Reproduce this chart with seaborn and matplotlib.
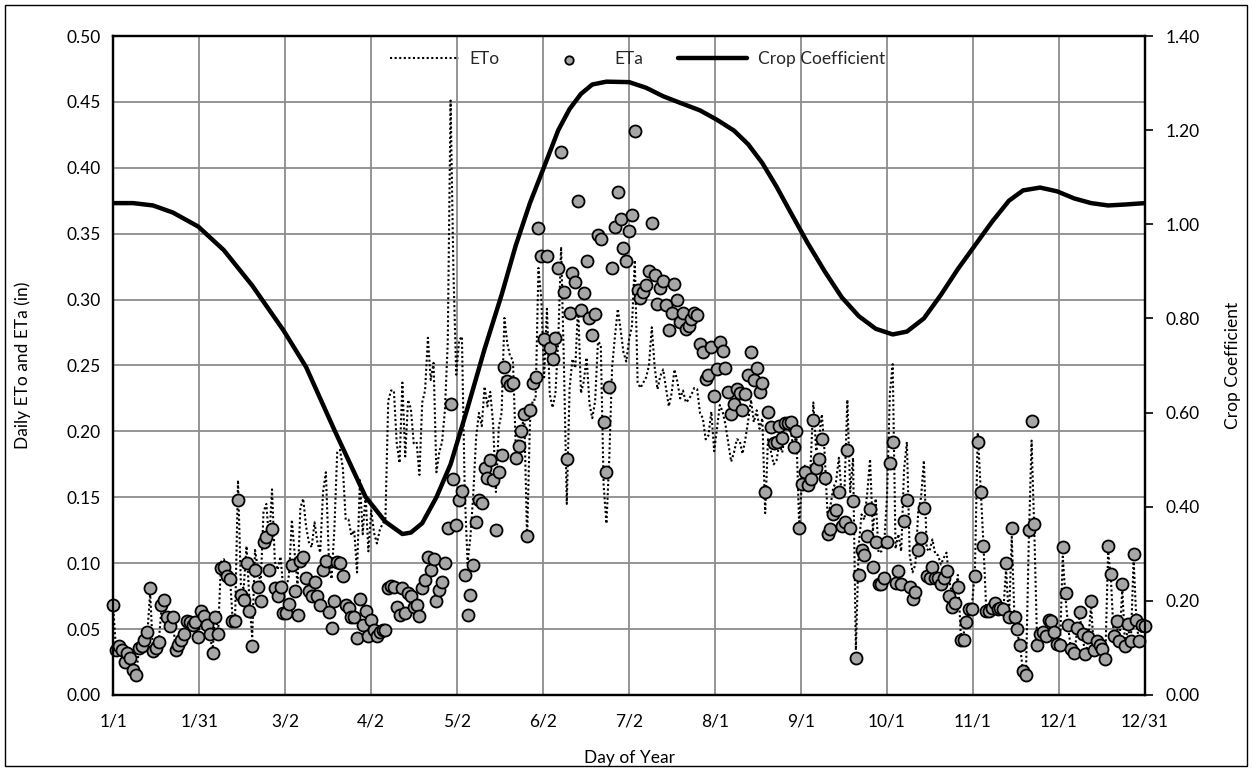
import numpy as np
import pandas as pd
import matplotlib
matplotlib.use("Agg")
import matplotlib.pyplot as plt
from matplotlib.patches import Rectangle
import seaborn as sns

# daily values (day 1 .. 365)
days = list(range(1, 366))

eta = [0.068, 0.034, 0.037, 0.034, 0.025, 0.032, 0.028, 0.019, 0.015, 0.036,
       0.037, 0.042, 0.048, 0.081, 0.033, 0.036, 0.040, 0.068, 0.072, 0.059,
       0.052, 0.059, 0.034, 0.038, 0.042, 0.046, 0.056, 0.055, 0.053, 0.055,
       0.044, 0.064, 0.060, 0.053, 0.046, 0.032, 0.059, 0.046, 0.096, 0.097,
       0.090, 0.088, 0.056, 0.056, 0.148, 0.076, 0.072, 0.100, 0.064, 0.037,
       0.095, 0.082, 0.071, 0.116, 0.120, 0.095, 0.126, 0.081, 0.075, 0.082,
       0.062, 0.062, 0.069, 0.099, 0.079, 0.061, 0.102, 0.105, 0.089, 0.079,
       0.075, 0.086, 0.075, 0.068, 0.095, 0.102, 0.063, 0.051, 0.071, 0.101,
       0.100, 0.090, 0.068, 0.066, 0.059, 0.059, 0.043, 0.073, 0.053, 0.064,
       0.045, 0.057, 0.049, 0.045, 0.048, 0.049, 0.049, 0.081, 0.083, 0.082,
       0.067, 0.061, 0.081, 0.062, 0.077, 0.075, 0.067, 0.068, 0.060, 0.081,
       0.087, 0.105, 0.095, 0.103, 0.071, 0.080, 0.086, 0.100, 0.127, 0.221,
       0.164, 0.129, 0.148, 0.155, 0.091, 0.061, 0.076, 0.099, 0.131, 0.148,
       0.146, 0.172, 0.165, 0.178, 0.163, 0.125, 0.169, 0.182, 0.249, 0.238,
       0.235, 0.237, 0.180, 0.189, 0.200, 0.213, 0.121, 0.216, 0.237, 0.241,
       0.354, 0.333, 0.270, 0.333, 0.263, 0.255, 0.271, 0.324, 0.412, 0.306,
       0.179, 0.290, 0.320, 0.313, 0.375, 0.292, 0.305, 0.329, 0.286, 0.273,
       0.289, 0.349, 0.346, 0.207, 0.169, 0.234, 0.324, 0.355, 0.382, 0.361,
       0.339, 0.329, 0.352, 0.364, 0.428, 0.307, 0.301, 0.306, 0.311, 0.322,
       0.358, 0.319, 0.297, 0.309, 0.314, 0.296, 0.277, 0.290, 0.312, 0.300,
       0.283, 0.290, 0.278, 0.280, 0.285, 0.290, 0.288, 0.266, 0.260, 0.240,
       0.243, 0.264, 0.227, 0.247, 0.268, 0.261, 0.248, 0.230, 0.213, 0.221,
       0.232, 0.229, 0.216, 0.228, 0.243, 0.260, 0.239, 0.248, 0.230, 0.237,
       0.154, 0.215, 0.203, 0.191, 0.192, 0.204, 0.195, 0.206, 0.206, 0.207,
       0.188, 0.200, 0.127, 0.160, 0.169, 0.159, 0.164, 0.209, 0.172, 0.179,
       0.194, 0.165, 0.122, 0.126, 0.137, 0.140, 0.154, 0.128, 0.131, 0.186,
       0.127, 0.147, 0.028, 0.091, 0.110, 0.106, 0.121, 0.141, 0.097, 0.116,
       0.084, 0.084, 0.089, 0.116, 0.176, 0.192, 0.085, 0.094, 0.084, 0.132,
       0.148, 0.082, 0.073, 0.078, 0.110, 0.119, 0.142, 0.090, 0.089, 0.097,
       0.089, 0.089, 0.084, 0.089, 0.094, 0.075, 0.067, 0.070, 0.082, 0.042,
       0.042, 0.055, 0.065, 0.065, 0.090, 0.192, 0.154, 0.113, 0.064, 0.064,
       0.066, 0.070, 0.065, 0.066, 0.065, 0.100, 0.059, 0.127, 0.059, 0.050,
       0.038, 0.018, 0.015, 0.125, 0.208, 0.130, 0.038, 0.046, 0.048, 0.045,
       0.057, 0.056, 0.048, 0.039, 0.038, 0.112, 0.077, 0.053, 0.035, 0.032,
       0.051, 0.063, 0.046, 0.031, 0.044, 0.071, 0.034, 0.041, 0.038, 0.035,
       0.027, 0.113, 0.092, 0.045, 0.056, 0.041, 0.084, 0.037, 0.054, 0.041,
       0.107, 0.057, 0.041, 0.053, 0.052]

eto = [0.065, 0.033, 0.035, 0.033, 0.024, 0.031, 0.027, 0.018, 0.014, 0.034,
       0.035, 0.040, 0.046, 0.078, 0.032, 0.035, 0.039, 0.066, 0.070, 0.057,
       0.051, 0.058, 0.033, 0.037, 0.041, 0.045, 0.056, 0.055, 0.053, 0.055,
       0.044, 0.065, 0.061, 0.054, 0.047, 0.033, 0.061, 0.048, 0.101, 0.103,
       0.096, 0.095, 0.061, 0.061, 0.163, 0.084, 0.081, 0.113, 0.073, 0.043,
       0.110, 0.096, 0.084, 0.139, 0.145, 0.116, 0.156, 0.101, 0.095, 0.105,
       0.080, 0.081, 0.091, 0.133, 0.107, 0.084, 0.142, 0.149, 0.128, 0.116,
       0.112, 0.131, 0.116, 0.108, 0.154, 0.169, 0.107, 0.088, 0.126, 0.184,
       0.186, 0.172, 0.133, 0.133, 0.121, 0.125, 0.093, 0.163, 0.122, 0.152,
       0.109, 0.140, 0.123, 0.115, 0.125, 0.130, 0.133, 0.223, 0.231, 0.231,
       0.191, 0.176, 0.237, 0.181, 0.224, 0.217, 0.191, 0.192, 0.167, 0.222,
       0.231, 0.271, 0.239, 0.252, 0.169, 0.184, 0.192, 0.216, 0.267, 0.451,
       0.322, 0.243, 0.269, 0.272, 0.154, 0.100, 0.120, 0.152, 0.195, 0.214,
       0.204, 0.234, 0.219, 0.230, 0.206, 0.154, 0.203, 0.214, 0.286, 0.267,
       0.257, 0.254, 0.188, 0.194, 0.202, 0.211, 0.118, 0.207, 0.224, 0.224,
       0.324, 0.301, 0.241, 0.293, 0.228, 0.218, 0.229, 0.270, 0.340, 0.250,
       0.145, 0.233, 0.255, 0.248, 0.296, 0.229, 0.238, 0.256, 0.221, 0.210,
       0.223, 0.268, 0.266, 0.159, 0.130, 0.180, 0.249, 0.272, 0.293, 0.277,
       0.260, 0.253, 0.270, 0.280, 0.330, 0.237, 0.233, 0.237, 0.241, 0.250,
       0.279, 0.249, 0.232, 0.242, 0.247, 0.233, 0.219, 0.229, 0.247, 0.238,
       0.225, 0.231, 0.222, 0.224, 0.228, 0.233, 0.232, 0.214, 0.210, 0.194,
       0.197, 0.215, 0.185, 0.202, 0.220, 0.215, 0.205, 0.191, 0.177, 0.184,
       0.194, 0.193, 0.183, 0.194, 0.208, 0.224, 0.207, 0.216, 0.202, 0.210,
       0.138, 0.194, 0.185, 0.175, 0.178, 0.191, 0.184, 0.197, 0.199, 0.202,
       0.185, 0.199, 0.128, 0.163, 0.174, 0.166, 0.173, 0.222, 0.185, 0.195,
       0.213, 0.183, 0.137, 0.143, 0.157, 0.162, 0.180, 0.151, 0.156, 0.224,
       0.154, 0.180, 0.034, 0.113, 0.137, 0.133, 0.153, 0.179, 0.124, 0.149,
       0.108, 0.109, 0.115, 0.151, 0.229, 0.251, 0.111, 0.122, 0.109, 0.171,
       0.192, 0.106, 0.093, 0.099, 0.139, 0.150, 0.178, 0.111, 0.109, 0.118,
       0.107, 0.106, 0.099, 0.104, 0.108, 0.086, 0.076, 0.078, 0.091, 0.046,
       0.046, 0.059, 0.069, 0.069, 0.094, 0.199, 0.158, 0.115, 0.065, 0.064,
       0.066, 0.069, 0.064, 0.064, 0.063, 0.096, 0.056, 0.120, 0.056, 0.047,
       0.036, 0.017, 0.014, 0.116, 0.193, 0.121, 0.035, 0.043, 0.045, 0.042,
       0.053, 0.052, 0.045, 0.036, 0.036, 0.105, 0.073, 0.050, 0.033, 0.030,
       0.048, 0.060, 0.044, 0.030, 0.042, 0.068, 0.033, 0.039, 0.036, 0.034,
       0.026, 0.109, 0.088, 0.043, 0.054, 0.039, 0.081, 0.036, 0.052, 0.039,
       0.103, 0.055, 0.039, 0.051, 0.050]

# crop coefficient curve, read at points along the line
kc_day = [1, 8, 15, 22, 31, 40, 50, 61, 69, 79, 90, 97, 103, 106, 110, 115,
          120, 126, 132, 138, 143, 148, 153, 158, 162, 166, 170, 175, 183,
          189, 195, 201, 208, 214, 220, 225, 230, 235, 240, 246, 252, 258,
          264, 270, 276, 281, 287, 293, 299, 305, 311, 317, 322, 328, 334,
          340, 346, 352, 358, 365]
kc = [1.045, 1.045, 1.040, 1.025, 0.995, 0.945, 0.870, 0.775, 0.697, 0.563,
      0.421, 0.368, 0.342, 0.345, 0.365, 0.420, 0.490, 0.610, 0.735, 0.850,
      0.955, 1.045, 1.122, 1.200, 1.245, 1.277, 1.297, 1.303, 1.302, 1.290,
      1.272, 1.258, 1.242, 1.222, 1.199, 1.170, 1.130, 1.080, 1.025, 0.960,
      0.900, 0.845, 0.805, 0.778, 0.766, 0.772, 0.800, 0.850, 0.905, 0.955,
      1.005, 1.050, 1.072, 1.078, 1.070, 1.055, 1.045, 1.040, 1.042, 1.045]

tick_labels = ["1/1", "1/31", "3/2", "4/2", "5/2", "6/2", "7/2", "8/1",
               "9/1", "10/1", "11/1", "12/1", "12/31"]

sns.set_theme(style="white")
plt.rcParams['font.family'] = ['Lato', 'DejaVu Sans']
fs = 12.5

df = pd.DataFrame({"day": days, "ETo": eto, "ETa": eta})
kc_df = pd.DataFrame({"day": kc_day, "Kc": kc})

fig = plt.figure(figsize=(12.52, 7.71), dpi=100)
ax = fig.add_axes([0.0905, 0.0986, 0.8240, 0.8547])

sns.lineplot(data=df, x="day", y="ETo", ax=ax, color="black", lw=1.5,
             linestyle=(0, (1, 1.2)), label="ETo", legend=False, zorder=2)
sns.scatterplot(data=df, x="day", y="ETa", ax=ax, s=75, color="#a6a6a6",
                edgecolor="black", linewidth=1.3, label="ETa", legend=False,
                zorder=3, clip_on=False)

ax.set_xlim(1, 365)
ax.set_ylim(0, 0.5)
ax.set_xticks(np.linspace(1, 365, 13))
ax.set_xticklabels(tick_labels)
yt = np.round(np.arange(0, 0.501, 0.05), 2)
ax.set_yticks(yt)
ax.set_yticklabels(["{:.2f}".format(v) for v in yt])
ax.grid(True, color="#8c8c8c", lw=1.3)
ax.set_axisbelow(True)
ax.tick_params(axis="both", length=0, labelsize=fs, colors="black")
ax.tick_params(axis="x", pad=13)
ax.tick_params(axis="y", pad=9)
ax.set_xlabel("Day of Year", fontsize=fs, color="black")
ax.set_ylabel("Daily ETo and ETa (in)", fontsize=fs, color="black")
ax.xaxis.set_label_coords(0.5, -0.083)
ax.yaxis.set_label_coords(-0.080, 0.5)

ax2 = ax.twinx()
sns.lineplot(data=kc_df, x="day", y="Kc", ax=ax2, color="black", lw=3.2,
             label="Crop Coefficient", legend=False)
ax2.set_ylim(0, 1.4)
kt = np.round(np.arange(0, 1.401, 0.2), 2)
ax2.set_yticks(kt)
ax2.set_yticklabels(["{:.2f}".format(v) for v in kt])
ax2.tick_params(axis="y", length=6, width=1.2, color="black", labelsize=fs,
                pad=9, colors="black")
ax2.set_ylabel("Crop Coefficient", fontsize=fs, color="black")
ax2.yaxis.set_label_coords(1.078, 0.5)
ax2.grid(False)

for a in (ax, ax2):
    for sp in a.spines.values():
        sp.set_color("black")
        sp.set_linewidth(1.6)

h1, l1 = ax.get_legend_handles_labels()
h2, l2 = ax2.get_legend_handles_labels()
ax2.legend(h1 + h2, l1 + l2, loc="center", bbox_to_anchor=(0.508, 0.965),
           ncol=3, frameon=False, fontsize=fs, handlelength=4,
           columnspacing=2, handletextpad=0.6, borderaxespad=0,
           markerscale=0.7)

fig.patches.append(Rectangle((0.004, 0.006), 0.992, 0.988,
                             transform=fig.transFigure, fill=False,
                             edgecolor="black", lw=1.0))

fig.savefig("out.png", dpi=100)
